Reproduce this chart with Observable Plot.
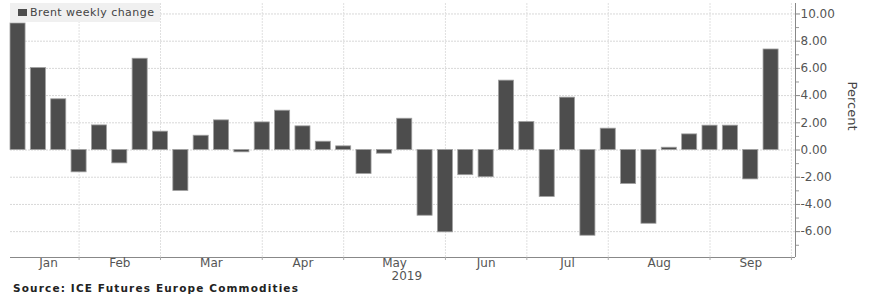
<!DOCTYPE html>
<html><head><meta charset="utf-8">
<script src="https://cdn.jsdelivr.net/npm/d3@7"></script>
<script src="https://cdn.jsdelivr.net/npm/@observablehq/plot@0.6"></script>
<style>
body{margin:0;background:#fff;font-family:"DejaVu Sans",sans-serif;}
#wrap{position:relative;width:872px;height:294px;overflow:hidden;}
#legend{position:absolute;left:10px;top:3px;width:150px;height:19px;background:#f0f0f0;font-size:11px;letter-spacing:0.45px;color:#444;line-height:19px;white-space:nowrap;}
#legend .sw{display:inline-block;width:9px;height:7px;background:#4d4d4d;margin-left:8px;margin-right:3px;vertical-align:0px;}
#source{position:absolute;left:13px;top:282px;font-size:10.5px;letter-spacing:1.15px;font-weight:bold;color:#222;white-space:nowrap;}
</style>
</head><body>
<div id="wrap"><div id="chart"></div>
<div id="legend"><span class="sw"></span>Brent weekly change</div>
<div id="source">Source: ICE Futures Europe Commodities</div>
</div>
<script>
const weeks = ["2019-01-11","2019-01-18","2019-01-25","2019-02-01","2019-02-08","2019-02-15","2019-02-22","2019-03-01","2019-03-08","2019-03-15","2019-03-22","2019-03-29","2019-04-05","2019-04-12","2019-04-19","2019-04-26","2019-05-03","2019-05-10","2019-05-17","2019-05-24","2019-05-31","2019-06-07","2019-06-14","2019-06-21","2019-06-28","2019-07-05","2019-07-12","2019-07-19","2019-07-26","2019-08-02","2019-08-09","2019-08-16","2019-08-23","2019-08-30","2019-09-06","2019-09-13","2019-09-20","2019-09-27"];
const changes = [9.3, 6.03, 3.73, -1.64, 1.81, -0.98, 6.71, 1.35, -3.01, 1.05, 2.18, -0.17, 2.03, 2.89, 1.74, 0.61, 0.27, -1.76, -0.27, 2.30, -4.83, -6.05, -1.85, -2.0, 5.1, 2.06, -3.45, 3.85, -6.3, 1.57, -2.5, -5.42, 0.17, 1.15, 1.79, 1.79, -2.16, 7.39];
const monthNames = ["Jan","Feb","Mar","Apr","May","Jun","Jul","Aug","Sep"];
const yearLabel = "2019";
const yTicks = [-6,-4,-2,0,2,4,6,8,10];
const yMinor = [-7,-5,-3,-1,1,3,5,7,9];

const data = weeks.map((w,i)=>({i, week:w, value:changes[i]}));
// month boundaries: index of first week of each month, plus end
const starts = [];
weeks.forEach((w,i)=>{ if(i===0 || w.slice(5,7)!==weeks[i-1].slice(5,7)) starts.push(i); });
starts.push(weeks.length);
const bounds = starts.slice(1);
const monthLabels = monthNames.map((name,k)=>({name, x:(starts[k]+starts[k+1])/2}));
const xDomain = [-0.37, 38.2];
const yDomain = [-7.9, 10.77];

const chart = Plot.plot({
  width:872, height:294,
  marginLeft:10, marginRight:77, marginTop:3, marginBottom:37,
  style:{fontFamily:"DejaVu Sans, sans-serif", fontSize:"12px", color:"#555", background:"transparent"},
  x:{domain:xDomain, axis:null},
  y:{domain:yDomain, axis:null},
  marks:[
    Plot.gridY(yTicks, {stroke:"#d8d8d8", strokeOpacity:1, strokeDasharray:"2,1"}),
    Plot.gridX(bounds, {stroke:"#e0e0e0", strokeOpacity:1, strokeDasharray:"2,1"}),
    Plot.rectY(data, {x1:d=>d.i-0.37, x2:d=>d.i+0.37, y1:0, y2:"value", fill:"#4d4d4d", stroke:"#a0a0a0", strokeWidth:0.8}),
    Plot.axisY(yTicks, {anchor:"right", tickSize:4, tickPadding:1, tickFormat:d=>d.toFixed(2), label:null, stroke:"#888", fill:"#555", fontSize:12, style:"letter-spacing:0.5px"}),
    Plot.axisY(yMinor, {anchor:"right", tickSize:3, tickFormat:()=>"", label:null, stroke:"#999"}),
    Plot.ruleX([xDomain[1]], {stroke:"#888"}),
    Plot.ruleY([yDomain[0]], {stroke:"#888"}),
    Plot.axisX(bounds, {anchor:"bottom", tickSize:3, tickFormat:()=>"", label:null, stroke:"#aaa"}),
    Plot.text(monthLabels, {x:"x", text:"name", frameAnchor:"bottom", dy:9, fill:"#555", fontSize:12}),
    Plot.text([yearLabel], {x:monthLabels[4].x + 0.6, text:d=>d, frameAnchor:"bottom", dy:22, fill:"#555", fontSize:12}),
    Plot.text(["Percent"], {text:d=>d, frameAnchor:"right", dx:57, rotate:90, fill:"#444", fontSize:13})
  ]
});
document.getElementById("chart").appendChild(chart);
</script>
</body></html>
